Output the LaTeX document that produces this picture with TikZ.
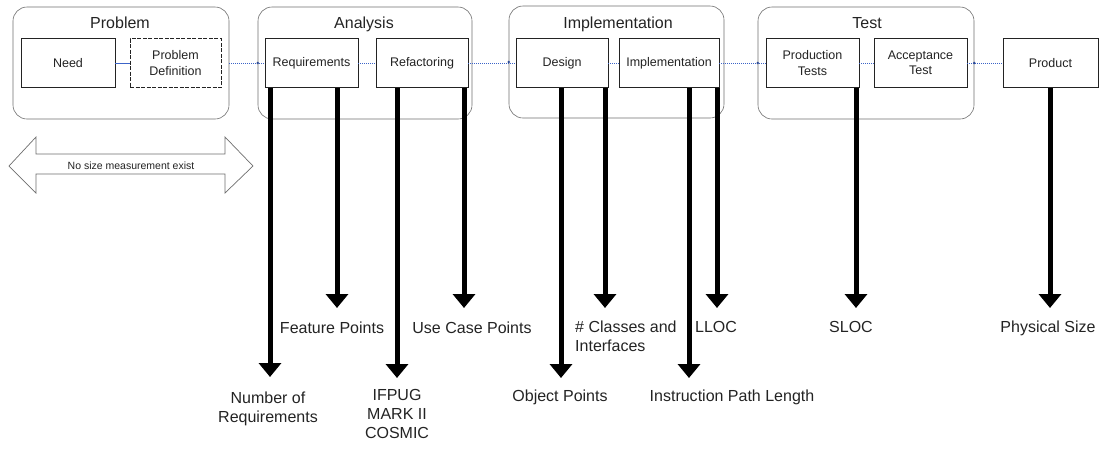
\documentclass[tikz,border=0pt]{standalone}
\usepackage{fontspec}
\setmainfont{Liberation Sans}
\usetikzlibrary{arrows.meta}
\definecolor{linkblue}{RGB}{60,100,200}
\definecolor{framegray}{RGB}{110,110,110}
\definecolor{inkgray}{RGB}{35,35,35}

\begin{document}
\begin{tikzpicture}[x=1pt,y=-1pt,
  phase/.style={draw=framegray, line width=0.6pt, rounded corners=14pt, inner sep=0pt, minimum height=112pt},
  phasetitle/.style={anchor=base, inner sep=0pt, font=\fontsize{16}{19}\selectfont, text=inkgray},
  stage/.style={draw=inkgray, line width=0.7pt, fill=white, inner sep=1pt, align=center,
                minimum height=49pt, font=\fontsize{12.5}{15.5}\selectfont, text=inkgray},
  link/.style={draw=linkblue, line width=0.7pt, dash pattern=on 1pt off 1pt},
  joint/.style={fill=linkblue!75!black},
  metric/.style={draw=black, line width=5pt, -{Triangle[width=22pt,length=14pt]}},
  measure/.style={anchor=north, inner sep=0pt, align=center, font=\fontsize{16}{19}\selectfont, text=inkgray},
]
\useasboundingbox (0,0) rectangle (1107,448);

% phase frames
\node[phase, minimum width=216pt] (gProb) at (121,63) {};
\node[phase, minimum width=214pt] (gAna)  at (365,63) {};
\node[phase, minimum width=215pt] (gImp)  at (616.5,62) {};
\node[phase, minimum width=216pt] (gTest) at (866,63) {};

\node[phasetitle] (tProb) at (120,28.5) {Problem};
\node[phasetitle] (tAna)  at (364,28.5) {Analysis};
\node[phasetitle] (tImp)  at (618,28) {Implementation};
\node[phasetitle] (tTest) at (867,28) {Test};

% activities
\node[stage, minimum width=94pt] (need) at (68,63) {Need};
\node[stage, minimum width=91pt, dash pattern=on 4pt off 1.5pt] (pdef) at (175.5,63) {Problem\\Definition};
\node[stage, minimum width=93pt] (req)  at (311.5,63) {Requirements};
\node[stage, minimum width=92pt] (ref)  at (422,63) {Refactoring};
\node[stage, minimum width=92pt] (des)  at (562,63) {Design};
\node[stage, minimum width=100pt] (impl) at (669,63) {Implementation};
\node[stage, minimum width=93pt] (prodt) at (812.5,63) {Production\\Tests};
\node[stage, minimum width=93pt] (acct)  at (920.5,63) {Acceptance\\Test};
\node[stage, minimum width=95pt] (prod)  at (1050.5,63) {Product};

% flow between activities
\draw[draw=linkblue, line width=1pt] (need) -- (pdef);
\draw[link] (gProb.east) -- (req.west);
\draw[link] (req) -- (ref);
\draw[link] (ref) -- (des);
\draw[link] (des) -- (impl);
\draw[link] (impl) -- (prodt);
\draw[link] (prodt) -- (acct);
\draw[link] (acct) -- (prod);
\foreach \p in {gAna.west, gImp.west, gTest.west, gTest.east}
  \fill[joint] (\p) circle (1.4);

% no-measurement span
\draw[draw=framegray, line width=0.7pt, fill=white]
  (9,166) -- (36,137) -- (36,154) -- (225,154) -- (225,137) -- (253,166)
  -- (225,193) -- (225,174) -- (36,174) -- (36,193) -- cycle;
\node[font=\fontsize{10.5}{12}\selectfont, text=inkgray] (nosize) at (131,166) {No size measurement exist};

% arrow tips
\coordinate (aNum) at (270,377);
\coordinate (aFeat) at (337,308);
\coordinate (aIfp) at (397,378);
\coordinate (aUse) at (464,308);
\coordinate (aObj) at (561,378);
\coordinate (aCls) at (605,308);
\coordinate (aIpl) at (689,378);
\coordinate (aLloc) at (717,308);
\coordinate (aSloc) at (856,308);
\coordinate (aPhys) at (1050,308);

% size measures
\draw[metric] (req.south -| aNum) -- (aNum);
\draw[metric] (req.south -| aFeat) -- (aFeat);
\draw[metric] (ref.south -| aIfp) -- (aIfp);
\draw[metric] (ref.south -| aUse) -- (aUse);
\draw[metric] (des.south -| aObj) -- (aObj);
\draw[metric] (des.south -| aCls) -- (aCls);
\draw[metric] (impl.south -| aIpl) -- (aIpl);
\draw[metric] (impl.south -| aLloc) -- (aLloc);
\draw[metric] (prodt.south -| aSloc) -- (aSloc);
\draw[metric] (prod.south -| aPhys) -- (aPhys);

\node[measure] (mNum) at (268,392) {Number of\\Requirements};
\node[measure] (mFeat) at (332,322) {Feature Points};
\node[measure] (mIfp) at (397,389) {IFPUG\\MARK II\\COSMIC};
\node[measure] (mUse) at (472,322) {Use Case Points};
\node[measure] (mObj) at (560,390) {Object Points};
\node[measure, anchor=north west, align=left] (mCls) at (575,321) {\# Classes and\\Interfaces};
\node[measure] (mIpl) at (732,390) {Instruction Path Length};
\node[measure] (mLloc) at (716,321) {LLOC};
\node[measure] (mSloc) at (851,321) {SLOC};
\node[measure] (mPhys) at (1048,321) {Physical Size};
\end{tikzpicture}
\end{document}
